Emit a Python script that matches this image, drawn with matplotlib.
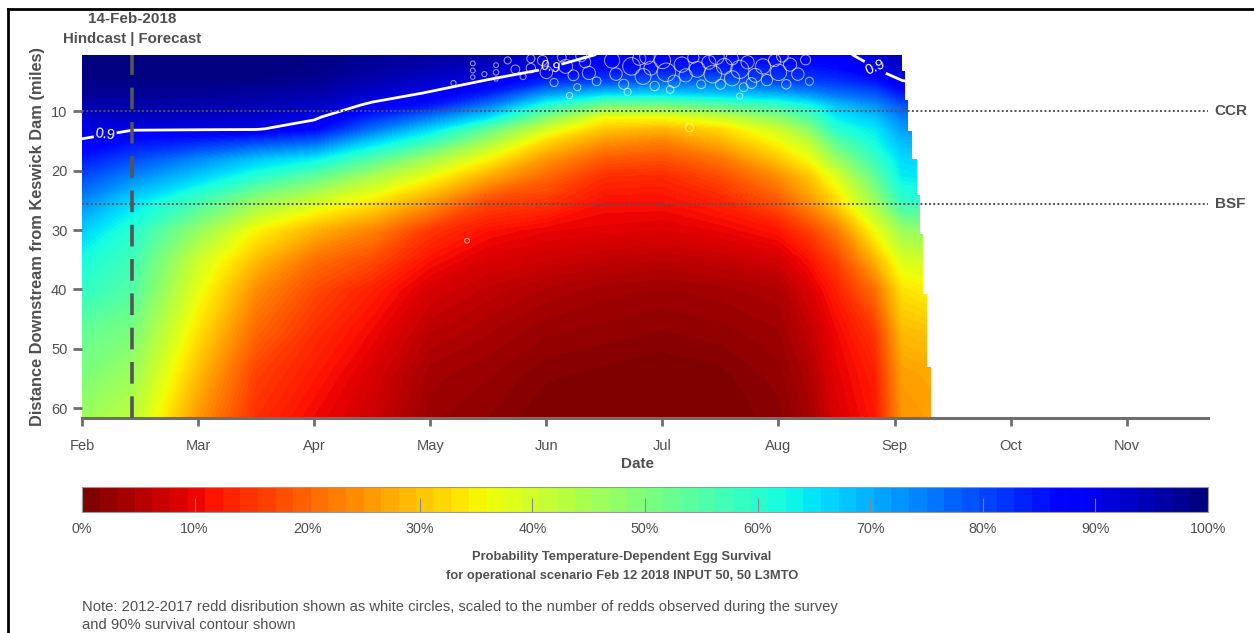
import numpy as np
import matplotlib
matplotlib.use('Agg')
import matplotlib.pyplot as plt
from matplotlib.patches import Polygon
from matplotlib.lines import Line2D
from matplotlib.colors import Normalize
from matplotlib.cm import ScalarMappable
import matplotlib.transforms as mtransforms

plt.rcParams['font.family'] = ['Liberation Sans', 'DejaVu Sans']
GREY = '#505050'

# days after 1-Feb (picture spaces months evenly, 30 days each)
days = [0, 13, 30, 45, 60, 75, 90, 105, 120, 135, 150, 165, 180, 188, 195, 205, 212, 220]
miles = [0.5, 3, 5, 7, 9, 11, 13, 15, 18, 21, 25, 30, 35, 40, 47, 54, 61.6]

# survival probability, one list per day (top -> bottom)
survival_by_day = [
    [1.00, 1.00, 0.99, 0.98, 0.95, 0.93, 0.91, 0.898, 0.85, 0.80, 0.74, 0.67, 0.62, 0.59, 0.53, 0.50, 0.46],
    [1.00, 1.00, 0.99, 0.98, 0.96, 0.94, 0.905, 0.86, 0.80, 0.74, 0.66, 0.60, 0.57, 0.55, 0.50, 0.46, 0.42],
    [1.00, 1.00, 0.99, 0.98, 0.96, 0.94, 0.905, 0.84, 0.74, 0.67, 0.57, 0.47, 0.40, 0.37, 0.33, 0.29, 0.25],
    [1.00, 1.00, 0.99, 0.97, 0.95, 0.93, 0.905, 0.81, 0.68, 0.60, 0.47, 0.35, 0.29, 0.24, 0.20, 0.16, 0.14],
    [0.99, 0.99, 0.98, 0.96, 0.94, 0.91, 0.87, 0.78, 0.64, 0.53, 0.40, 0.28, 0.21, 0.17, 0.14, 0.12, 0.10],
    [0.98, 0.97, 0.95, 0.93, 0.89, 0.83, 0.76, 0.67, 0.55, 0.44, 0.34, 0.23, 0.17, 0.125, 0.10, 0.08, 0.07],
    [0.97, 0.95, 0.93, 0.895, 0.85, 0.75, 0.66, 0.58, 0.45, 0.36, 0.26, 0.15, 0.11, 0.078, 0.055, 0.035, 0.025],
    [0.96, 0.93, 0.895, 0.84, 0.75, 0.65, 0.53, 0.45, 0.35, 0.27, 0.17, 0.11, 0.08, 0.06, 0.04, 0.025, 0.015],
    [0.93, 0.898, 0.83, 0.72, 0.60, 0.49, 0.39, 0.32, 0.25, 0.20, 0.15, 0.095, 0.07, 0.045, 0.025, 0.01, 0.0],
    [0.895, 0.86, 0.80, 0.665, 0.50, 0.36, 0.30, 0.25, 0.185, 0.14, 0.11, 0.09, 0.06, 0.035, 0.02, 0.005, 0.0],
    [0.875, 0.85, 0.78, 0.66, 0.50, 0.36, 0.28, 0.23, 0.175, 0.135, 0.11, 0.085, 0.055, 0.03, 0.015, 0.0, 0.0],
    [0.875, 0.84, 0.77, 0.68, 0.54, 0.40, 0.32, 0.28, 0.215, 0.17, 0.13, 0.095, 0.062, 0.035, 0.02, 0.005, 0.0],
    [0.875, 0.84, 0.81, 0.70, 0.58, 0.48, 0.40, 0.36, 0.30, 0.24, 0.185, 0.115, 0.075, 0.045, 0.03, 0.02, 0.012],
    [0.88, 0.85, 0.81, 0.73, 0.62, 0.55, 0.48, 0.42, 0.36, 0.30, 0.25, 0.16, 0.11, 0.08, 0.06, 0.045, 0.035],
    [0.89, 0.86, 0.82, 0.76, 0.68, 0.64, 0.60, 0.54, 0.46, 0.38, 0.32, 0.22, 0.16, 0.125, 0.10, 0.09, 0.08],
    [0.915, 0.898, 0.85, 0.79, 0.73, 0.68, 0.645, 0.625, 0.58, 0.53, 0.46, 0.36, 0.28, 0.21, 0.15, 0.125, 0.115],
    [0.95, 0.93, 0.898, 0.85, 0.79, 0.75, 0.72, 0.69, 0.66, 0.64, 0.59, 0.46, 0.385, 0.33, 0.29, 0.26, 0.25],
    [0.96, 0.94, 0.91, 0.86, 0.80, 0.76, 0.73, 0.70, 0.67, 0.65, 0.60, 0.48, 0.40, 0.35, 0.30, 0.27, 0.26],
]

# ragged right edge of the forecast (last day with data for each river band)
edge_miles = [0.5, 3.2, 8.2, 13.3, 18, 24.2, 30.6, 40.7, 53.1, 61.6]
edge_days = [211.8, 212.6, 213.5, 214.4, 215.7, 216.5, 217.3, 218.3, 219.3]

# redd observations 2012-2017 (day, mile, marker size)
redd_day = [96, 101, 101, 101, 104, 107, 107, 107, 110, 112, 114, 116, 116,
            119, 120, 122, 124, 125, 127, 128, 130, 131, 133, 126, 129,
            137, 138, 140, 141, 142, 144, 145, 147, 148, 150, 151, 153, 155, 156, 158, 159, 160, 146, 152,
            162, 163, 165, 166, 168, 168, 170, 171, 172, 174, 170, 164, 173,
            176, 177, 179, 180, 182, 183, 185, 187, 188, 181, 157, 99.5]
redd_mile = [5.3, 2.0, 3.2, 4.3, 3.8, 2.3, 3.5, 4.6, 1.5, 3.0, 4.2, 1.2, 2.8,
             1.5, 3.5, 5.2, 1.0, 2.5, 4.0, 6.0, 1.8, 3.6, 5.0, 7.4, 0.8,
             1.5, 3.8, 5.5, 6.8, 2.5, 1.2, 4.2, 2.8, 5.8, 1.5, 3.5, 5.0, 2.2, 4.0, 1.0, 3.0, 5.5, 0.9, 6.4,
             1.8, 3.8, 5.5, 2.5, 1.2, 4.5, 3.0, 6.0, 1.8, 4.0, 7.5, 0.9, 5.3,
             2.5, 4.8, 1.5, 3.5, 5.5, 2.2, 3.8, 1.4, 5.0, 0.8, 12.8, 31.8]
redd_size = [14, 12, 12, 10, 14, 12, 16, 10, 26, 40, 20, 34, 46,
             52, 80, 34, 40, 100, 60, 26, 66, 90, 40, 20, 60,
             120, 80, 52, 26, 160, 90, 130, 100, 46, 140, 180, 80, 120, 90, 66, 130, 40, 110, 30,
             100, 160, 52, 130, 80, 120, 170, 40, 90, 100, 20, 120, 60,
             120, 66, 80, 140, 46, 90, 80, 52, 34, 70, 34, 12]

month_days = [0, 30, 60, 90, 120, 150, 180, 210, 240, 270]
month_labels = ['Feb', 'Mar', 'Apr', 'May', 'Jun', 'Jul', 'Aug', 'Sep', 'Oct', 'Nov']
forecast_day = 13
reach_miles = [10, 25.7]
reach_names = ['CCR', 'BSF']
cbar_ticks = [0, 0.1, 0.2, 0.3, 0.4, 0.5, 0.6, 0.7, 0.8, 0.9, 1.0]

W, H = 1254, 633
fig = plt.figure(figsize=(W / 100, H / 100), dpi=100)
ax = fig.add_axes([82 / W, 1 - 418 / H, 1126 / W, 363.5 / H])

field_cmap = plt.get_cmap('jet', 128).reversed()
bar_cmap = plt.get_cmap('jet', 64).reversed()
Z = np.array(survival_by_day).T

# clip polygon following the stair-step end of the data
verts = [(0, edge_miles[0])]
for i, d in enumerate(edge_days):
    verts.append((d, edge_miles[i]))
    verts.append((d, edge_miles[i + 1]))
verts.append((0, edge_miles[-1]))
clip = Polygon(verts, closed=True, transform=ax.transData, fc='none', ec='none')

cf = ax.contourf(days, miles, Z, levels=np.linspace(0, 1, 129), cmap=field_cmap, vmin=0, vmax=1,
                 antialiased=False)
cf.set_clip_path(clip)
cl = ax.contour(days, miles, Z, levels=[0.9], colors='white', linewidths=2)
cl.set_clip_path(clip)
ax.clabel(cl, fmt='%.1f', fontsize=10.5, inline=True, manual=[(6, 14), (121, 2.7), (206, 1.5)])

ax.scatter(redd_day, redd_mile, s=redd_size, facecolors='none', edgecolors='white',
           linewidths=0.7, alpha=0.65, zorder=4)

ax.axvline(forecast_day, color='#555555', lw=2.6, ls=(0, (6, 3.5)), zorder=5)
trans = mtransforms.blended_transform_factory(ax.transAxes, ax.transData)
for m, name in zip(reach_miles, reach_names):
    ax.axhline(m, color='#555555', lw=1.4, ls=(0, (1, 1.2)), zorder=5)
    ax.text(1.006, m, name, transform=trans, ha='left', va='center', fontsize=11,
            fontweight='bold', color=GREY)

ax.set_xlim(0, 291)
ax.set_ylim(61.6, 0.5)
ax.set_xticks(month_days)
ax.set_xticklabels(month_labels)
ax.set_yticks([10, 20, 30, 40, 50, 60])
for s in ['top', 'right', 'left']:
    ax.spines[s].set_visible(False)
ax.spines['bottom'].set_color('#6e6e6e')
ax.spines['bottom'].set_linewidth(2.2)
ax.tick_params(axis='x', direction='out', length=6, width=2, color='#6e6e6e', pad=9,
               labelsize=10.5, labelcolor=GREY)
ax.tick_params(axis='y', direction='out', length=6.5, width=2, color='#6e6e6e', pad=4,
               labelsize=10.5, labelcolor=GREY)
ax.set_xlabel('Date', fontsize=11, fontweight='bold', color=GREY)
ax.xaxis.set_label_coords((637 - 82) / 1126, -0.108)
ax.set_ylabel('Distance Downstream from Keswick Dam (miles)', fontsize=11.8,
              fontweight='bold', color=GREY, labelpad=4)

fig.text(131.7 / W, 1 - 19 / H, '14-Feb-2018', ha='center', va='center', fontsize=11,
         fontweight='bold', color=GREY)
fig.text(131.7 / W, 1 - 39 / H, 'Hindcast | Forecast', ha='center', va='center', fontsize=10.8,
         fontweight='bold', color=GREY)

cax = fig.add_axes([82 / W, 1 - 512 / H, 1126 / W, 25 / H])
sm = ScalarMappable(norm=Normalize(0, 1), cmap=bar_cmap)
cb = fig.colorbar(sm, cax=cax, orientation='horizontal', ticks=cbar_ticks)
cb.ax.set_xticklabels(['%d%%' % round(t * 100) for t in cbar_ticks])
cb.outline.set_edgecolor('#9a9a9a')
cb.outline.set_linewidth(0.8)
cax.tick_params(axis='x', direction='in', length=10, width=0.8, color='#8a8a8a', pad=7,
                labelsize=10.3, labelcolor=GREY)

fig.text(622 / W, 1 - 557 / H, 'Probability Temperature-Dependent Egg Survival', ha='center',
         va='center', fontsize=9.3, fontweight='bold', color=GREY)
fig.text(622 / W, 1 - 576 / H, 'for operational scenario Feb 12 2018 INPUT 50, 50 L3MTO',
         ha='center', va='center', fontsize=9.3, fontweight='bold', color=GREY)
fig.text(82 / W, 1 - 607 / H, 'Note: 2012-2017 redd disribution shown as white circles, '
         'scaled to the number of redds observed during the survey', ha='left', va='center',
         fontsize=10.6, color=GREY)
fig.text(82 / W, 1 - 625 / H, 'and 90% survival contour shown', ha='left', va='center',
         fontsize=10.6, color=GREY)

# frame around the figure (left and top edges visible in the picture)
fig.add_artist(Line2D([8 / W, 8 / W], [0, 1 - 9 / H], color='black', lw=2))
fig.add_artist(Line2D([8 / W, 1], [1 - 9 / H, 1 - 9 / H], color='black', lw=2))

fig.savefig('out.png', dpi=100)
